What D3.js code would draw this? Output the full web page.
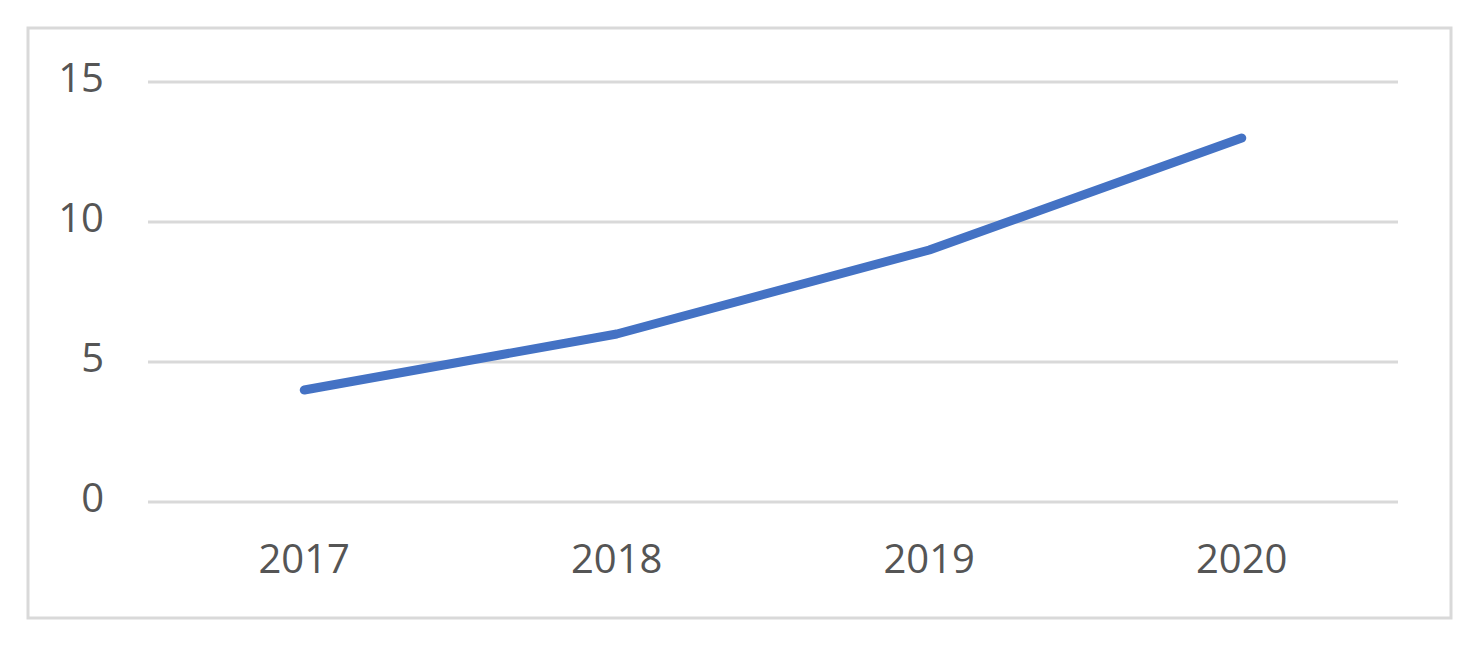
<!DOCTYPE html>
<html>
<head>
<meta charset="utf-8">
<script src="https://cdn.jsdelivr.net/npm/d3@7"></script>
<style>
	body { margin: 0; background: #fff; }
	text { font-family: "Open Sans", sans-serif; fill: #555555; }
</style>
</head>
<body>
<script>
var years = ['2017', '2018', '2019', '2020'];
var values = [4, 6, 9, 13];
var yTicks = [0, 5, 10, 15];

var width = 1475,
	height = 646;

var plot = {
	'left': 148,
	'right': 1398,
	'top': 82,
	'bottom': 502
};

var svg = d3.select('body').append('svg')
	.attr('width', width)
	.attr('height', height);

// chart border
svg.append('rect')
	.attr('x', 28)
	.attr('y', 28)
	.attr('width', 1423)
	.attr('height', 590)
	.attr('fill', 'white')
	.attr('stroke', '#d9d9d9')
	.attr('stroke-width', 3);

var x = d3.scaleBand()
	.domain(years)
	.range([plot.left, plot.right]);

var y = d3.scaleLinear()
	.domain([0, 15])
	.range([plot.bottom, plot.top]);

// gridlines
svg.append('g')
	.selectAll('line')
	.data(yTicks).enter()
	.append('line')
	.attr('x1', plot.left)
	.attr('x2', plot.right)
	.attr('y1', function(d) { return y(d); })
	.attr('y2', function(d) { return y(d); })
	.attr('stroke', '#d9d9d9')
	.attr('stroke-width', 3);

// y labels
svg.append('g')
	.selectAll('text')
	.data(yTicks).enter()
	.append('text')
	.attr('x', 104)
	.attr('y', function(d) { return y(d) + 10; })
	.attr('text-anchor', 'end')
	.attr('font-size', 40)
	.text(function(d) { return d; });

// x labels
svg.append('g')
	.selectAll('text')
	.data(years).enter()
	.append('text')
	.attr('x', function(d) { return x(d) + x.bandwidth() / 2; })
	.attr('y', 573)
	.attr('text-anchor', 'middle')
	.attr('font-size', 40)
	.text(function(d) { return d; });

var line = d3.line()
	.x(function(d, i) { return x(years[i]) + x.bandwidth() / 2; })
	.y(function(d) { return y(d); });

svg.append('path')
	.datum(values)
	.attr('d', line)
	.attr('fill', 'none')
	.attr('stroke', '#4472c4')
	.attr('stroke-width', 9)
	.attr('stroke-linecap', 'round')
	.attr('stroke-linejoin', 'round');
</script>
</body>
</html>
